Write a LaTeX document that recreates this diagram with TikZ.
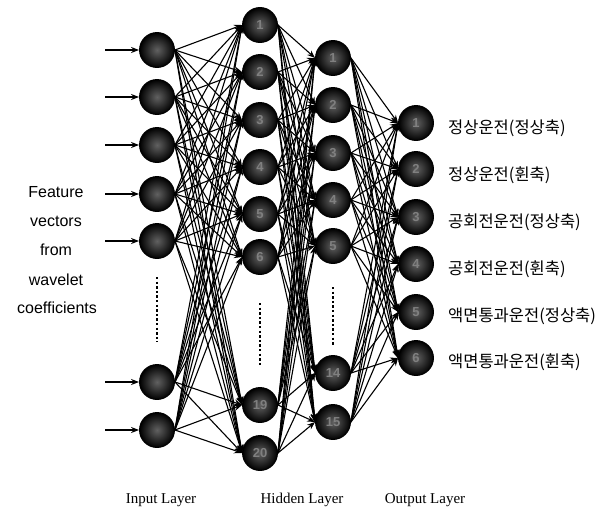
\documentclass[tikz,border=0pt]{standalone}
\usepackage{fontspec}
\setmainfont{Liberation Serif}
\newfontfamily\sansf{Liberation Sans}
\newfontfamily\krf{Noto Sans CJK KR}
\usetikzlibrary{arrows.meta}
\begin{document}
\begin{tikzpicture}[x=1pt,y=-1pt,
  neuron/.style={circle,minimum size=35pt,inner sep=0pt,draw=black,line width=0.9pt,
    shading=radial,inner color=black!62,outer color=black,
    text=black!50,font=\sansf\fontsize{13}{13}\selectfont\bfseries},
  edge/.style={line width=1.1pt,-{Stealth[length=8pt,width=6pt]}},
  dotsline/.style={line width=2.8pt,dash pattern=on 2.4pt off 2.2pt},
  klabel/.style={anchor=west,inner sep=0pt,font=\krf\fontsize{16.5}{16.5}\selectfont},
  llabel/.style={inner sep=0pt,font=\fontsize{15}{15}\selectfont},
  flabel/.style={inner sep=0pt,font=\sansf\fontsize{16}{16}\selectfont}]
\useasboundingbox (0,0) rectangle (607,514);
% input layer
\foreach \n/\y in {1/50,2/97,3/145,4/194,5/241,6/382,7/430}
  \node[neuron] (i\n) at (157,\y) {};
% hidden layer 1
\foreach \n/\y/\t in {1/25/1,2/72/2,3/120/3,4/167/4,5/214/5,6/257/6,7/405/19,8/453/20}
  \node[neuron] (h\n) at (260,\y) {\t};
% hidden layer 2
\foreach \n/\y/\t in {1/58/1,2/105/2,3/153/3,4/200/4,5/246/5,6/373/14,7/422/15}
  \node[neuron] (g\n) at (333,\y) {\t};
% output layer
\foreach \n/\y in {1/123,2/169,3/217,4/264,5/312,6/358}
  \node[neuron] (o\n) at (416,\y) {\n};
% input arrows
\foreach \n in {1,...,7}{
  \coordinate (a\n) at (105,0 |- i\n);
  \draw[edge] (a\n) -- (i\n.west);
}
% connections
\foreach \s in {1,...,7}
  \foreach \t in {1,...,8}
    \draw[edge] (i\s.east) -- (h\t.west);
\foreach \s in {1,...,8}
  \foreach \t in {1,...,7}
    \draw[edge] (h\s.east) -- (g\t.west);
\foreach \s in {1,...,7}
  \foreach \t in {1,...,6}
    \draw[edge] (g\s.east) -- (o\t.west);
% dotted gaps
\coordinate (d1a) at (157,277); \coordinate (d1b) at (157,342);
\coordinate (d2a) at (260,303); \coordinate (d2b) at (260,367);
\coordinate (d3a) at (333,287); \coordinate (d3b) at (333,345);
\draw[dotsline] (d1a) -- (d1b);
\draw[dotsline] (d2a) -- (d2b);
\draw[dotsline] (d3a) -- (d3b);
% output labels
\node[klabel] (k1) at (448,128) {정상운전(정상축)};
\node[klabel] (k2) at (448,175) {정상운전(휜축)};
\node[klabel] (k3) at (448,222) {공회전운전(정상축)};
\node[klabel] (k4) at (448,269) {공회전운전(휜축)};
\node[klabel] (k5) at (448,316) {액면통과운전(정상축)};
\node[klabel] (k6) at (448,362) {액면통과운전(휜축)};
% left labels
\node[flabel] (f1) at (56,192) {Feature};
\node[flabel] (f2) at (56,221) {vectors};
\node[flabel] (f3) at (56,250) {from};
\node[flabel] (f4) at (56,280) {wavelet};
\node[flabel] (f5) at (57,308) {coefficients};
% layer labels
\node[llabel] (l1) at (161,500) {Input Layer};
\node[llabel] (l2) at (302,500) {Hidden Layer};
\node[llabel] (l3) at (425,500) {Output Layer};
\end{tikzpicture}
\end{document}
